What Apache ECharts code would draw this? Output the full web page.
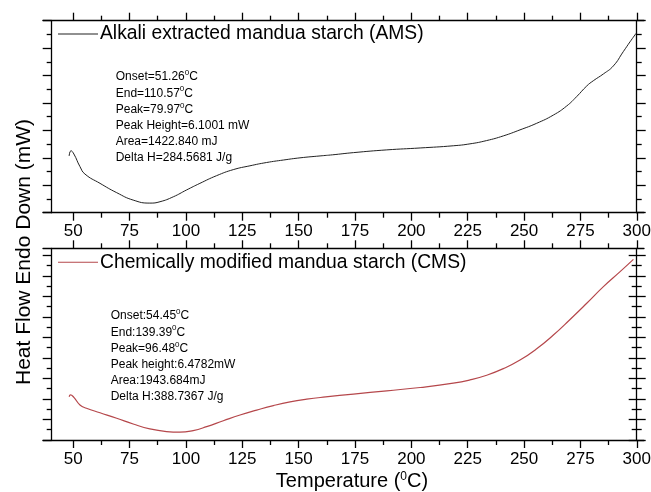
<!DOCTYPE html>
<html>
<head>
<meta charset="utf-8">
<style>
  html, body { margin: 0; padding: 0; background: #fff; }
  #chart { width: 651px; height: 492px; }
</style>
<script src="https://cdn.jsdelivr.net/npm/echarts@6/dist/echarts.min.js"></script>
</head>
<body>
<div id="chart"></div>
<script>
// DSC thermograms of mandua starch: alkali extracted (AMS) and chemically modified (CMS)

// Temperature (°C) of each sampled point
const amsTemp = [48.2, 49.0, 50.3, 53.0, 55.2, 61.9, 69.3, 76.6, 84.0, 88.5, 94.4, 100.3, 106.2,
  113.6, 121.0, 128.4, 135.8, 143.2, 150.6, 159.5, 165.0, 174.3, 189.1, 203.9, 218.6, 226.0,
  233.4, 240.8, 248.2, 255.6, 263.0, 268.9, 273.3, 277.8, 280.7, 285.2, 289.6, 294.0, 297.0, 299.7];
// Heat flow (axis units, endo down)
const amsFlow = [2.07, 2.26, 2.14, 1.68, 1.41, 1.07, 0.73, 0.46, 0.35, 0.40, 0.58, 0.83, 1.07,
  1.35, 1.57, 1.71, 1.83, 1.92, 2.00, 2.07, 2.11, 2.19, 2.29, 2.36, 2.44, 2.51,
  2.63, 2.80, 3.02, 3.26, 3.56, 3.89, 4.23, 4.62, 4.81, 5.06, 5.35, 5.87, 6.23, 6.54];

const cmsTemp = [48.2, 48.8, 50.3, 53.0, 55.9, 61.9, 69.3, 76.6, 84.0, 91.4, 97.3, 103.2, 109.2,
  116.6, 124.0, 131.4, 138.8, 146.2, 153.6, 162.0, 174.3, 189.1, 203.9, 218.6, 226.0, 233.4,
  240.8, 248.2, 255.6, 263.0, 270.4, 277.8, 285.2, 292.6, 298.5];
const cmsFlow = [2.11, 2.20, 2.08, 1.71, 1.55, 1.33, 1.06, 0.78, 0.54, 0.41, 0.38, 0.46, 0.65,
  0.94, 1.22, 1.46, 1.68, 1.86, 1.99, 2.10, 2.24, 2.40, 2.56, 2.77, 2.93, 3.16,
  3.48, 3.90, 4.45, 5.12, 5.88, 6.67, 7.48, 8.21, 8.81];

// Tick positions
const tempMajor = [50, 75, 100, 125, 150, 175, 200, 225, 250, 275, 300];
const tempMinor = [62.5, 87.5, 112.5, 137.5, 162.5, 187.5, 212.5, 237.5, 262.5, 287.5];
const amsMajor = [0, 1, 2, 3, 4, 5, 6, 7];
const amsMinor = [0.5, 1.5, 2.5, 3.5, 4.5, 5.5, 6.5];
const cmsMajor = [0, 1, 2, 3, 4, 5, 6, 7, 8, 9];
const cmsMinor = [0.5, 1.5, 2.5, 3.5, 4.5, 5.5, 6.5, 7.5, 8.5];

const amsName = 'Alkali extracted mandua starch (AMS)';
const cmsName = 'Chemically modified mandua starch (CMS)';

const amsNotes = [
  ['Onset=51.26', '°C'], ['End=110.57', '°C'], ['Peak=79.97', '°C'],
  ['Peak Height=6.1001 mW'], ['Area=1422.840 mJ'], ['Delta H=284.5681 J/g']
];
const cmsNotes = [
  ['Onset:54.45', '°C'], ['End:139.39', '°C'], ['Peak=96.48', '°C'],
  ['Peak height:6.4782mW'], ['Area:1943.684mJ'], ['Delta H:388.7367 J/g']
];

const FONT = '"Liberation Sans", Arial, Helvetica, sans-serif';
const AXIS_COLOR = '#000';
const AMS_COLOR = '#222222';
const CMS_COLOR = '#b5474b';

const T_MIN = 36.6, T_MAX = 303.2;
const lineStyle = { color: AXIS_COLOR, width: 1.3 };

function xAxesFor(grid, labels) {
  const base = { type: 'value', gridIndex: grid, min: T_MIN, max: T_MAX, splitLine: { show: false } };
  const label = {
    show: labels, customValues: tempMajor, margin: labels ? (grid === 0 ? 10 : 11) : 0,
    color: '#000', fontSize: 17, fontFamily: FONT
  };
  return [
    Object.assign({}, base, { position: 'bottom',
      axisLine: { show: true, onZero: false, lineStyle },
      axisTick: { show: true, inside: false, length: 8, customValues: tempMajor, lineStyle },
      axisLabel: label }),
    Object.assign({}, base, { position: 'bottom',
      axisLine: { show: false, onZero: false },
      axisTick: { show: true, inside: false, length: 5, customValues: tempMinor, lineStyle },
      axisLabel: { show: false } }),
    Object.assign({}, base, { position: 'top',
      axisLine: { show: true, onZero: false, lineStyle },
      axisTick: { show: true, inside: false, length: 8, customValues: tempMajor, lineStyle },
      axisLabel: { show: false } }),
    Object.assign({}, base, { position: 'top',
      axisLine: { show: false, onZero: false },
      axisTick: { show: true, inside: false, length: 5, customValues: tempMinor, lineStyle },
      axisLabel: { show: false } })
  ];
}

function yAxis(grid, max, pos, offset, ticks, len, inside, showLine) {
  return {
    type: 'value', gridIndex: grid, min: 0, max: max, position: pos, offset: offset,
    axisLine: { show: showLine, onZero: false, lineStyle },
    axisTick: { show: true, inside: inside, length: len, customValues: ticks, lineStyle },
    axisLabel: { show: false }, splitLine: { show: false }
  };
}

const LEFT_OFF = -8.7, RIGHT_OFF = -7.3;
const AMS_MAX = 7, CMS_MAX = 9.35;

const yAxes = [
  // upper panel
  yAxis(0, AMS_MAX, 'left', LEFT_OFF, amsMajor, 9, false, true),
  yAxis(0, AMS_MAX, 'left', LEFT_OFF, amsMinor, 5, false, false),
  yAxis(0, AMS_MAX, 'right', RIGHT_OFF, amsMajor, 9, false, true),
  yAxis(0, AMS_MAX, 'right', RIGHT_OFF, amsMinor, 5, false, false),
  // lower panel
  yAxis(1, CMS_MAX, 'left', LEFT_OFF, cmsMajor, 9, false, true),
  yAxis(1, CMS_MAX, 'left', LEFT_OFF, cmsMinor, 5, false, false),
  yAxis(1, CMS_MAX, 'right', RIGHT_OFF, cmsMajor, 9, false, true),
  yAxis(1, CMS_MAX, 'right', RIGHT_OFF, cmsMajor, 8, true, false),
  yAxis(1, CMS_MAX, 'right', RIGHT_OFF, cmsMinor, 5, false, false),
  yAxis(1, CMS_MAX, 'right', RIGHT_OFF, cmsMinor, 5, true, false)
];

function notesText(notes) {
  return notes.map(n => n.length > 1 ? n[0] + '{sup|0}' + n[1].slice(1) : n[0]).join('\n');
}

function noteBlock(notes, x, y) {
  return {
    type: 'text', left: x, top: y, silent: true,
    style: {
      text: notesText(notes), fill: '#000', font: '12px ' + FONT, lineHeight: 16.2,
      rich: { sup: { fontSize: 8, fontFamily: FONT, fill: '#000', verticalAlign: 'top', lineHeight: 16.2, padding: [0, 0, 5, 0] } }
    }
  };
}

const chart = echarts.init(document.getElementById('chart'), null, { renderer: 'canvas' });

chart.setOption({
  animation: false,
  backgroundColor: '#fff',
  textStyle: { fontFamily: FONT },
  grid: [
    { left: 43, right: 7, top: 20.7, height: 192, outerBoundsMode: 'none', containLabel: false },
    { left: 43, right: 7, top: 248.3, height: 191.7, outerBoundsMode: 'none', containLabel: false }
  ],
  xAxis: xAxesFor(0, true).concat(xAxesFor(1, true)),
  yAxis: yAxes,
  legend: [
    { data: [amsName], left: 58, top: 24, padding: 0, icon: 'rect', itemWidth: 40, itemHeight: 1,
      selectedMode: false, textStyle: { fontSize: 19.3, fontFamily: FONT, color: '#000', lineHeight: 20, padding: [0, 0, 0, -3] } },
    { data: [cmsName], left: 58, top: 252.3, padding: 0, icon: 'rect', itemWidth: 40, itemHeight: 1,
      selectedMode: false, textStyle: { fontSize: 19.3, fontFamily: FONT, color: '#000', lineHeight: 20, padding: [0, 0, 0, -3] } }
  ],
  series: [
    { name: amsName, type: 'line', xAxisIndex: 0, yAxisIndex: 0, smooth: 0.5, showSymbol: false,
      color: AMS_COLOR, lineStyle: { color: AMS_COLOR, width: 1 },
      data: amsTemp.map((t, i) => [t, amsFlow[i]]) },
    { name: cmsName, type: 'line', xAxisIndex: 4, yAxisIndex: 4, smooth: 0.5, showSymbol: false,
      color: CMS_COLOR, lineStyle: { color: CMS_COLOR, width: 1.2 },
      data: cmsTemp.map((t, i) => [t, cmsFlow[i]]) }
  ],
  graphic: [
    noteBlock(amsNotes, 115.7, 69),
    noteBlock(cmsNotes, 110.7, 308),
    {
      type: 'text', x: 24, y: 252, rotation: Math.PI / 2, silent: true,
      style: { text: 'Heat Flow Endo Down (mW)', fill: '#000', font: '21px ' + FONT,
        align: 'center', verticalAlign: 'middle' }
    },
    {
      type: 'text', x: 352, y: 481, silent: true,
      style: { text: 'Temperature ({sup|0}C)', fill: '#000', font: '20px ' + FONT,
        align: 'center', verticalAlign: 'middle',
        rich: { sup: { fontSize: 12, fontFamily: FONT, fill: '#000', verticalAlign: 'top', padding: [0, 0, 8, 0] } } }
    }
  ]
});
</script>
</body>
</html>
